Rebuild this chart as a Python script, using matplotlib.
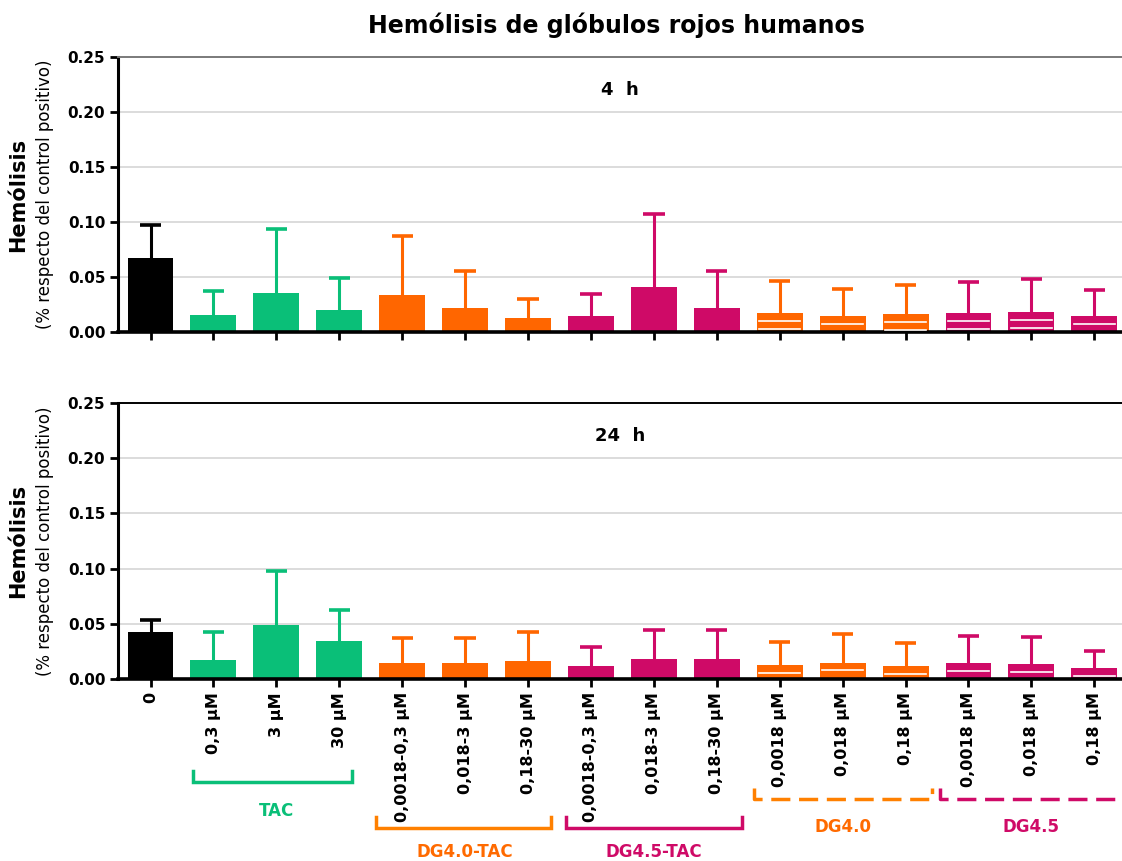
import numpy as np
import matplotlib
matplotlib.use("Agg")
import matplotlib.pyplot as plt
import matplotlib.transforms as mtransforms

plt.rcParams['font.family'] = ['DejaVu Sans']

# data
labels = ["0", "0,3 µM", "3 µM", "30 µM",
          "0,0018-0,3 µM", "0,018-3 µM", "0,18-30 µM",
          "0,0018-0,3 µM", "0,018-3 µM", "0,18-30 µM",
          "0,0018 µM", "0,018 µM", "0,18 µM",
          "0,0018 µM", "0,018 µM", "0,18 µM"]
groups = ["ctrl", "TAC", "TAC", "TAC",
          "DG40TAC", "DG40TAC", "DG40TAC",
          "DG45TAC", "DG45TAC", "DG45TAC",
          "DG40", "DG40", "DG40",
          "DG45", "DG45", "DG45"]

mean_4h = [0.0669, 0.0155, 0.0353, 0.0198, 0.0334, 0.0222, 0.0125,
           0.0143, 0.0410, 0.0222, 0.0173, 0.0149, 0.0161, 0.0170, 0.0179, 0.0143]
upper_4h = [0.0970, 0.0374, 0.0933, 0.0495, 0.0869, 0.0559, 0.0301,
            0.0347, 0.1073, 0.0559, 0.0465, 0.0392, 0.0429, 0.0459, 0.0483, 0.0383]
inner_4h = [[], [], [], [], [], [], [], [], [], [],
            [0.0097, 0.0027], [0.0076], [0.0088, 0.0021],
            [0.0097, 0.0027], [0.0109, 0.0033], [0.0073]]

mean_24h = [0.0429, 0.0170, 0.0489, 0.0347, 0.0149, 0.0149, 0.0167,
            0.0122, 0.0179, 0.0179, 0.0125, 0.0149, 0.0119, 0.0146, 0.0140, 0.0097]
upper_24h = [0.0535, 0.0422, 0.0979, 0.0623, 0.0368, 0.0368, 0.0422,
             0.0286, 0.0447, 0.0447, 0.0337, 0.0404, 0.0322, 0.0392, 0.0377, 0.0252]
inner_24h = [[], [], [], [], [], [], [], [], [], [],
             [0.0055], [0.0079], [0.0046],
             [0.0073], [0.0067], [0.0024]]

colors = {"ctrl": "black", "TAC": "#0ABF78", "DG40TAC": "#FF6600",
          "DG45TAC": "#CF0A67", "DG40": "#FF6600", "DG45": "#CF0A67"}

# group brackets: (name, first, last, colour, dashed, level)
brackets = [("TAC", 1, 3, "#0ABF78", False, 0),
            ("DG4.0-TAC", 4, 6, "#FF8000", False, 2),
            ("DG4.5-TAC", 7, 9, "#CF0A67", False, 2),
            ("DG4.0", 10, 12, "#FF8000", True, 1),
            ("DG4.5", 13, 15, "#CF0A67", True, 1)]
bracket_text = {"TAC": "#0ABF78", "DG4.0-TAC": "#FF6A00", "DG4.5-TAC": "#CF0A67",
                "DG4.0": "#FF6A00", "DG4.5": "#CF0A67"}

fig = plt.figure(figsize=(11.22, 8.61), dpi=100)
ax1 = fig.add_axes([0.105, 0.6144, 0.895, 0.3194])
ax2 = fig.add_axes([0.105, 0.2114, 0.895, 0.3206])

x = np.arange(len(labels))
bar_w = 0.73


def draw_panel(ax, means, uppers, inners, title, top_color):
    cols = [colors[g] for g in groups]
    for yv in [0.05, 0.10, 0.15, 0.20]:
        ax.axhline(yv, color="#d9d9d9", linewidth=1.3, zorder=0)
    for i in range(len(x)):
        ax.bar(x[i], means[i], width=bar_w, color=cols[i], zorder=2)
        ax.plot([x[i], x[i]], [means[i], uppers[i]], color=cols[i], lw=2.2, zorder=2,
                solid_capstyle="butt")
        ax.plot([x[i] - 0.17, x[i] + 0.17], [uppers[i], uppers[i]], color=cols[i],
                lw=2.6, zorder=2, solid_capstyle="butt")
        for v in inners[i]:
            ax.plot([x[i] - bar_w / 2 + 0.04, x[i] + bar_w / 2 - 0.04], [v, v],
                    color="white", lw=1.2, zorder=3)
    ax.set_xlim(-0.52, 15.44)
    ax.set_ylim(0, 0.25)
    ax.set_yticks([0, 0.05, 0.10, 0.15, 0.20, 0.25])
    ax.set_yticklabels(["0.00", "0.05", "0.10", "0.15", "0.20", "0.25"],
                       fontweight="bold", fontsize=11)
    ax.set_xticks(x)
    ax.spines["right"].set_visible(False)
    ax.spines["top"].set_color(top_color)
    ax.spines["top"].set_linewidth(1.4)
    ax.spines["left"].set_linewidth(2.2)
    ax.spines["bottom"].set_linewidth(2.6)
    ax.tick_params(axis="y", length=6, width=2, pad=3)
    ax.tick_params(axis="x", length=6, width=2)
    ax.text(0.5, 0.88, title, transform=ax.transAxes, ha="center", va="center",
            fontsize=13, fontweight="bold")
    ax.text(-0.0996, 0.5, "Hemólisis", transform=ax.transAxes, rotation=90,
            ha="center", va="center", fontsize=15, fontweight="bold")
    ax.text(-0.0727, 0.5, "(% respecto del control positivo)", transform=ax.transAxes,
            rotation=90, ha="center", va="center", fontsize=12)


draw_panel(ax1, mean_4h, upper_4h, inner_4h, "4  h", "#7a7a7a")
draw_panel(ax2, mean_24h, upper_24h, inner_24h, "24  h", "black")

ax1.set_xticklabels([])
ax2.set_xticklabels(labels, rotation=90, fontweight="bold", fontsize=11.5)

fig.text(0.549, 0.971, "Hemólisis de glóbulos rojos humanos", ha="center", va="center",
         fontsize=17, fontweight="bold")

# group brackets under the lower axis
trans = mtransforms.blended_transform_factory(ax2.transData, ax2.transAxes)
levels = {0: (-0.333, -0.373, -0.478), 1: (-0.395, -0.435, -0.536), 2: (-0.50, -0.54, -0.625)}
offsets = {"TAC": (-0.33, 0.2), "DG4.0-TAC": (-0.41, 0.37), "DG4.5-TAC": (-0.4, 0.4),
           "DG4.0": (-0.41, 0.42), "DG4.5": (-0.46, 0.8)}
for name, a, b, col, dashed, lev in brackets:
    ytop, ybar, ytxt = levels[lev]
    x0 = a + offsets[name][0]
    x1 = b + offsets[name][1]
    ls = (0, (5.5, 2.5)) if dashed else "-"
    ax2.plot([x0, x0, x1, x1], [ytop, ybar, ybar, ytop], transform=trans, color=col,
             lw=2.5, ls=ls, clip_on=False, solid_joinstyle="miter")
    ax2.text((a + b) / 2, ytxt, name, transform=trans, ha="center", va="center",
             color=bracket_text[name], fontsize=12, fontweight="bold")

fig.savefig("out.png", dpi=100)
